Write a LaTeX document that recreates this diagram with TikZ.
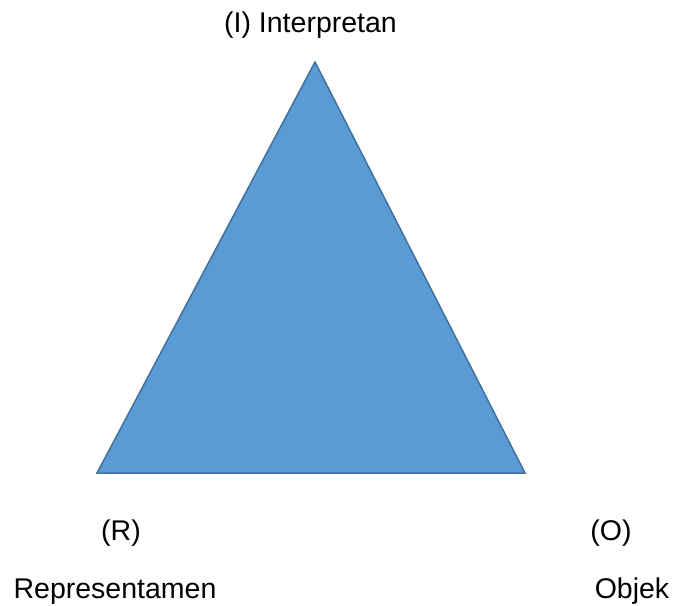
\documentclass[tikz,border=0pt]{standalone}
\usepackage{fontspec}
\setmainfont{Liberation Sans}
\usepackage{tikz}
\definecolor{trifill}{HTML}{5B9BD5}
\definecolor{triline}{HTML}{41719C}

\begin{document}
\begin{tikzpicture}[x=1pt,y=1pt]
\tikzstyle{lbl}=[inner sep=0pt,anchor=base,font=\fontsize{28.5}{34}\selectfont]
\useasboundingbox (0,0) rectangle (676,605);
\coordinate (top) at (315,543);
\coordinate (left) at (97,132);
\coordinate (right) at (525,132);
\filldraw[fill=trifill,draw=triline,line width=1.5pt,line join=miter] (top) -- (left) -- (right) -- cycle;

\node[lbl] (interp) at (310.5,572) {(I) Interpretan};
\node[lbl] (rtag) at (121,65) {(R)};
\node[lbl] (repr) at (115,7) {Representamen};
\node[lbl] (otag) at (611,65) {(O)};
\node[lbl] (obj) at (632,7) {Objek};
\end{tikzpicture}
\end{document}
